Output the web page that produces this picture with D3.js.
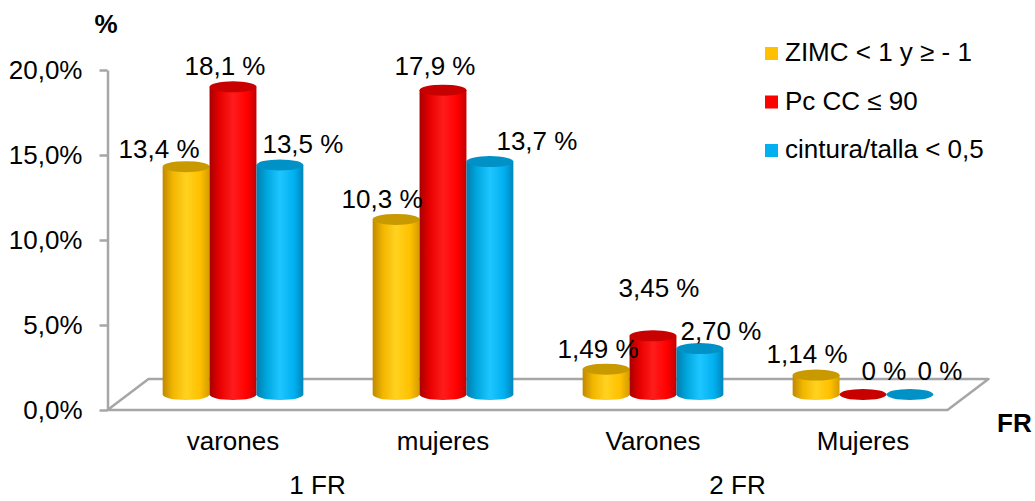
<!DOCTYPE html>
<html>
<head>
<meta charset="utf-8">
<script src="https://d3js.org/d3.v7.min.js"></script>
<style>
  body { margin: 0; background: #fff; }
  svg { display: block; font-family: "Liberation Sans", Arial, sans-serif; }
</style>
</head>
<body>
<svg width="1035" height="501"></svg>
<script>
//Start: Data===
var categories = ["varones", "mujeres", "Varones", "Mujeres"];
var groups = ["1 FR", "2 FR"];
var seriesNames = ["ZIMC < 1 y \u2265 - 1", "Pc CC \u2264 90", "cintura/talla < 0,5"];
var zimc = [13.4, 10.3, 1.49, 1.14];
var pccc = [18.1, 17.9, 3.45, 0];
var cintura = [13.5, 13.7, 2.70, 0];
var zimcLabels = ["13,4 %", "10,3 %", "1,49 %", "1,14 %"];
var pcccLabels = ["18,1 %", "17,9 %", "3,45 %", "0 %"];
var cinturaLabels = ["13,5 %", "13,7 %", "2,70 %", "0 %"];
var yTicks = [0, 5, 10, 15, 20];
//End: Data===

var series = [
  {name: seriesNames[0], values: zimc, labels: zimcLabels},
  {name: seriesNames[1], values: pccc, labels: pcccLabels},
  {name: seriesNames[2], values: cintura, labels: cinturaLabels}
];

//colors: left edge, mid, highlight, right edge, top lid
var colors = [
  {stops: ["#c08800", "#f2b600", "#ffd21f", "#ffc000", "#d49c00"], top: "#c99a00", key: "#ffc000"},
  {stops: ["#a80000", "#e80000", "#ff1c1c", "#ff0000", "#c40000"], top: "#c80000", key: "#ff0000"},
  {stops: ["#007fae", "#00a6de", "#1ec6ff", "#00b0f0", "#0086ba"], top: "#0092c6", key: "#00b0f0"}
];

//label nudges [dx, dy] per series and category, so texts sit like the picture
var labelShift = [
  [[-27, 3], [-14, 1], [-8, 1], [-9, 0]],
  [[-8, 0], [-8, -3], [6, -27], [21, -2.5]],
  [[23, 0], [47, 0], [21, 3], [30, -2.5]]
];

var gray = "#a6a6a6";
var fontSize = 26;
var depthX = 41, depthY = 31;
var ry = 5.5;

var svg = d3.select("svg");
var defs = svg.append("defs");

colors.forEach(function(c, i) {
  var grad = defs.append("linearGradient")
      .attr("id", "cyl" + i)
      .attr("x1", 0).attr("x2", 1).attr("y1", 0).attr("y2", 0);
  var offs = [0, 0.22, 0.5, 0.8, 1];
  c.stops.forEach(function(s, k) {
    grad.append("stop").attr("offset", offs[k]).attr("stop-color", s);
  });
});

//scales
var y = d3.scaleLinear().domain([0, 20]).range([410, 70]);

var x0 = d3.scaleBand()
    .domain(categories)
    .range([107.5, 947.5])
    .paddingInner(0.33)
    .paddingOuter(0.165);

var x1 = d3.scaleBand()
    .domain(d3.range(series.length))
    .range([0, x0.bandwidth()]);

//floor
var fx0 = x0.range()[0], fx1 = x0.range()[1];
svg.append("polygon")
    .attr("points", [
      [fx0, y(0)], [fx1, y(0)],
      [fx1 + depthX, y(0) - depthY], [fx0 + depthX, y(0) - depthY]
    ].join(" "))
    .attr("fill", "#fff")
    .attr("stroke", gray)
    .attr("stroke-width", 2.5)
    .attr("stroke-linejoin", "round");

//axis
var yAxis = d3.axisLeft(y)
    .tickValues(yTicks)
    .tickSize(8)
    .tickSizeOuter(0)
    .tickPadding(17)
    .tickFormat(function(d) { return d3.format(".1f")(d).replace(".", ",") + "%"; });

var axisG = svg.append("g")
    .attr("transform", "translate(" + fx0 + ",0)")
    .call(yAxis);
axisG.select(".domain").attr("stroke", gray).attr("stroke-width", 2.5);
axisG.selectAll(".tick line").attr("stroke", gray).attr("stroke-width", 2.5);
axisG.selectAll(".tick text")
    .attr("fill", "#000")
    .attr("font-size", fontSize)
    .attr("font-family", "Liberation Sans, Arial, sans-serif");

//bars
var baseY = y(0) - depthY / 2;
var rx = x1.bandwidth() / 2;

categories.forEach(function(cat, ci) {
  series.forEach(function(s, si) {
    var v = s.values[ci];
    var left = x0(cat) + x1(si) + depthX / 2;
    var right = left + x1.bandwidth();
    var topY = baseY - (y(0) - y(v));
    var bar = svg.append("g");

    if (v > 0) {
      bar.append("path")
          .attr("d", "M" + left + "," + topY +
                     "L" + left + "," + baseY +
                     "A" + rx + "," + ry + " 0 0 0 " + right + "," + baseY +
                     "L" + right + "," + topY + "Z")
          .attr("fill", "url(#cyl" + si + ")");
    }
    bar.append("ellipse")
        .attr("cx", left + rx)
        .attr("cy", topY)
        .attr("rx", rx)
        .attr("ry", ry)
        .attr("fill", colors[si].top);
  });
});

//value labels
categories.forEach(function(cat, ci) {
  series.forEach(function(s, si) {
    var v = s.values[ci];
    var cx = x0(cat) + x1(si) + depthX / 2 + rx;
    var topY = baseY - (y(0) - y(v));
    svg.append("text")
        .attr("x", cx + labelShift[si][ci][0])
        .attr("y", topY - 12 + labelShift[si][ci][1])
        .attr("text-anchor", "middle")
        .attr("font-size", fontSize)
        .text(s.labels[ci]);
  });
});

//category labels
svg.selectAll(".cat")
    .data(categories)
  .enter().append("text")
    .attr("x", function(d) { return x0(d) + x0.bandwidth() / 2 + depthX / 2; })
    .attr("y", 450)
    .attr("text-anchor", "middle")
    .attr("font-size", fontSize)
    .text(function(d) { return d; });

//group labels (1 FR / 2 FR)
svg.selectAll(".grp")
    .data(groups)
  .enter().append("text")
    .attr("x", function(d, i) {
      var a = categories[i * 2], b = categories[i * 2 + 1];
      return (x0(a) + x0(b) + x0.bandwidth()) / 2;
    })
    .attr("y", 494)
    .attr("text-anchor", "middle")
    .attr("font-size", fontSize)
    .text(function(d) { return d; });

//axis titles
svg.append("text")
    .attr("x", 106).attr("y", 33)
    .attr("text-anchor", "middle")
    .attr("font-size", fontSize)
    .attr("font-weight", "bold")
    .text("%");

svg.append("text")
    .attr("x", 997).attr("y", 432)
    .attr("font-size", fontSize)
    .attr("font-weight", "bold")
    .text("FR");

//legend
var legend = svg.append("g").attr("transform", "translate(765,47)");
series.forEach(function(s, i) {
  var row = legend.append("g").attr("transform", "translate(0," + (i * 48.5) + ")");
  row.append("rect")
      .attr("width", 13).attr("height", 13)
      .attr("fill", colors[i].key);
  row.append("text")
      .attr("x", 20).attr("y", 14)
      .attr("font-size", fontSize)
      .text(s.name);
});
</script>
</body>
</html>
